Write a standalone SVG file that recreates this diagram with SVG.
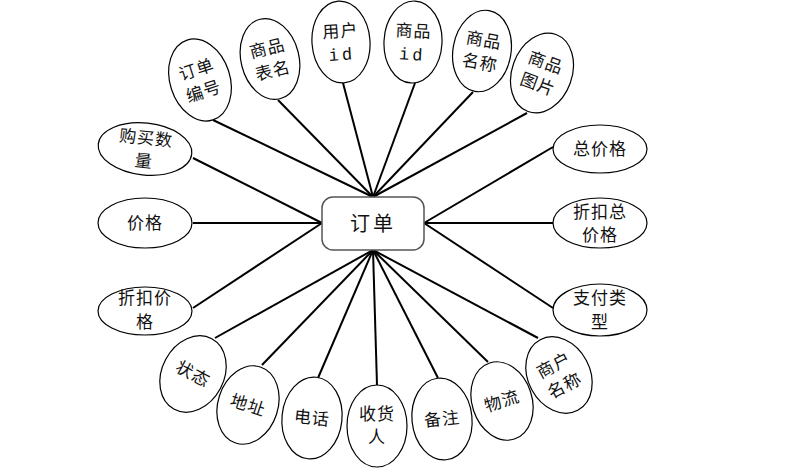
<svg xmlns="http://www.w3.org/2000/svg" width="804" height="471" viewBox="0 0 804 471">
<style>
.e{fill:#fff;stroke:#000;stroke-width:1.2}
.t{font-family:"Noto Sans CJK SC","Liberation Sans",sans-serif;font-size:17px;fill:#111;text-anchor:middle;letter-spacing:1px}
.m{font-family:"Liberation Mono",monospace;font-size:17px;fill:#111;text-anchor:middle;letter-spacing:3px}
.c line{stroke:#000;stroke-width:2}
</style>
<rect width="804" height="471" fill="#fff"/>
<g class="c" id="connectors">
<line x1="213" y1="120" x2="373" y2="197"/>
<line x1="278" y1="100" x2="373" y2="197"/>
<line x1="343" y1="83" x2="373" y2="197"/>
<line x1="415" y1="83" x2="373" y2="197"/>
<line x1="473" y1="92" x2="373" y2="197"/>
<line x1="527" y1="113" x2="373" y2="197"/>
<line x1="193" y1="158" x2="322" y2="223"/>
<line x1="193" y1="223" x2="322" y2="223"/>
<line x1="193" y1="308" x2="322" y2="223"/>
<line x1="553" y1="147" x2="424" y2="223"/>
<line x1="553" y1="223" x2="424" y2="223"/>
<line x1="553" y1="308" x2="424" y2="223"/>
<line x1="215" y1="338" x2="373" y2="250"/>
<line x1="262" y1="365" x2="373" y2="250"/>
<line x1="318" y1="378" x2="373" y2="250"/>
<line x1="377" y1="385" x2="373" y2="250"/>
<line x1="438" y1="378" x2="373" y2="250"/>
<line x1="488" y1="362" x2="373" y2="250"/>
<line x1="538" y1="338" x2="373" y2="250"/>
</g>
<g id="order">
<rect x="322" y="197" width="102" height="53" rx="11" fill="#fff" stroke="#555" stroke-width="1.5"/>
<text x="373" y="231" class="t" style="font-size:20px;letter-spacing:3px">订单</text>
</g>
<g id="n1" transform="translate(200,80) rotate(-18)"><ellipse class="e" rx="30" ry="42"/><text class="t" y="-5">订单</text><text class="t" y="18">编号</text></g>
<g id="n2" transform="translate(270,59) rotate(-14)"><ellipse class="e" rx="29" ry="41"/><text class="t" y="-5">商品</text><text class="t" y="18">表名</text></g>
<g id="n3" transform="translate(341,42) rotate(-4)"><ellipse class="e" rx="29" ry="41"/><text class="t" y="-5">用户</text><text class="m" y="18">id</text></g>
<g id="n4" transform="translate(413,42) rotate(3)"><ellipse class="e" rx="29" ry="41"/><text class="t" y="-5">商品</text><text class="m" y="18">id</text></g>
<g id="n5" transform="translate(482,51) rotate(10)"><ellipse class="e" rx="29" ry="41"/><text class="t" y="-5">商品</text><text class="t" y="18">名称</text></g>
<g id="n6" transform="translate(542,73) rotate(20)"><ellipse class="e" rx="30" ry="41"/><text class="t" y="-5">商品</text><text class="t" y="18">图片</text></g>
<g id="n7"><ellipse class="e" cx="600" cy="149" rx="47" ry="24"/><text class="t" x="600" y="155">总价格</text></g>
<g id="n8"><ellipse class="e" cx="600" cy="223" rx="47" ry="25"/><text class="t" x="600" y="218">折扣总</text><text class="t" x="600" y="241">价格</text></g>
<g id="n9"><ellipse class="e" cx="600" cy="310" rx="47" ry="26"/><text class="t" x="600" y="304">支付类</text><text class="t" x="600" y="328">型</text></g>
<g id="n10" transform="translate(559,375) rotate(-28)"><ellipse class="e" rx="31" ry="40"/><text class="t" y="-5">商户</text><text class="t" y="18">名称</text></g>
<g id="n11" transform="translate(502,401) rotate(-18)"><ellipse class="e" rx="30" ry="40"/><text class="t" y="6">物流</text></g>
<g id="n12" transform="translate(442,419) rotate(-6)"><ellipse class="e" rx="30" ry="41"/><text class="t" y="6">备注</text></g>
<g id="n13"><ellipse class="e" cx="377" cy="426" rx="30" ry="41"/><text class="t" x="377" y="420">收货</text><text class="t" x="377" y="443">人</text></g>
<g id="n14" transform="translate(312,418) rotate(6)"><ellipse class="e" rx="30" ry="41"/><text class="t" y="6">电话</text></g>
<g id="n15" transform="translate(248,405) rotate(18)"><ellipse class="e" rx="30" ry="40"/><text class="t" y="6">地址</text></g>
<g id="n16" transform="translate(193,374) rotate(28)"><ellipse class="e" rx="31" ry="40"/><text class="t" y="6">状态</text></g>
<g id="n17"><ellipse class="e" cx="145" cy="311" rx="47" ry="24"/><text class="t" x="145" y="304">折扣价</text><text class="t" x="145" y="328">格</text></g>
<g id="n18"><ellipse class="e" cx="145" cy="223" rx="47" ry="25"/><text class="t" x="145" y="229">价格</text></g>
<g id="n19" transform="translate(145,149) rotate(6)"><ellipse class="e" rx="47" ry="26"/><text class="t" y="-5">购买数</text><text class="t" y="18">量</text></g>
</svg>
